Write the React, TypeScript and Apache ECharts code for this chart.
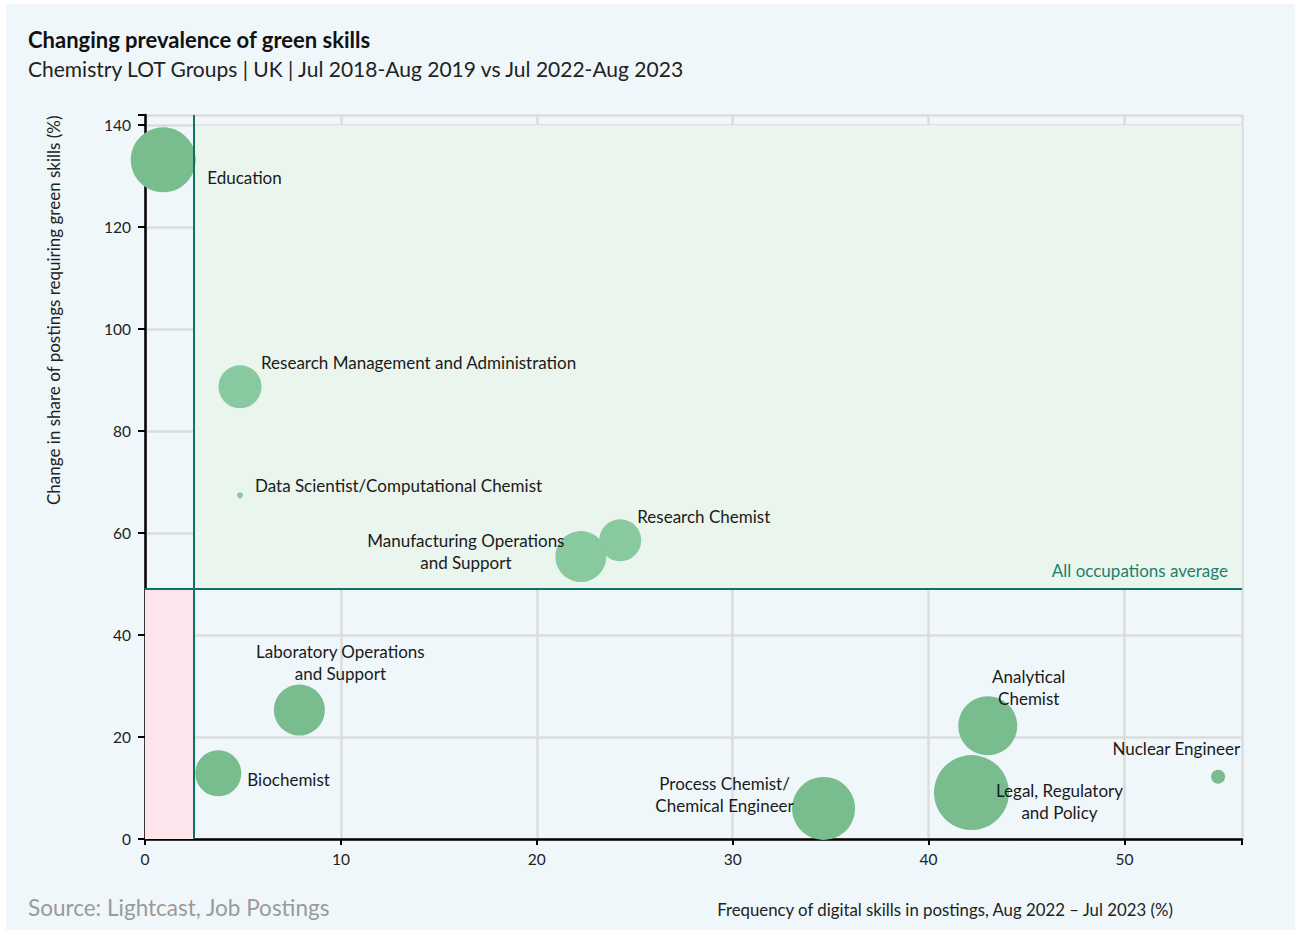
import React, { useEffect, useRef } from "react";
import * as echarts from "echarts";

const occupations = [
  "Education",
  "Research Management and Administration",
  "Data Scientist/Computational Chemist",
  "Manufacturing Operations\nand Support",
  "Research Chemist",
  "Laboratory Operations\nand Support",
  "Biochemist",
  "Process Chemist/\nChemical Engineer",
  "Analytical\nChemist",
  "Legal, Regulatory\nand Policy",
  "Nuclear Engineer",
];
const digitalFreq = [0.93, 4.85, 4.85, 22.25, 24.26, 7.88, 3.74, 34.64, 43.02, 42.19, 54.78];
const greenChange = [133.2, 88.7, 67.4, 55.4, 58.6, 25.3, 12.9, 6.0, 22.2, 9.1, 12.2];
const postingVolume = [4225, 1850, 36, 2600, 1760, 2600, 2116, 3970, 3480, 5620, 196];

const xTicks = [0, 10, 20, 30, 40, 50];
const yTicks = [0, 20, 40, 60, 80, 100, 120, 140];
const occupationsAverage = 49;
const verticalThreshold = 2.5;

// label placement relative to bubble centre: [dx, dy, align]
const labelPlacement: [number, number, string][] = [
  [44, 18, "left"],
  [21, -24, "left"],
  [15, -10, "left"],
  [-115, -5, "center"],
  [17, -24, "left"],
  [41, -48, "center"],
  [29, 6, "left"],
  [-99, -14, "center"],
  [41, -38, "center"],
  [88, 9, "center"],
  [22, -28, "right"],
];

export default function App() {
  const ref = useRef<HTMLDivElement>(null);
  useEffect(() => {
    document.body.style.margin = "0";
    const chart = echarts.init(ref.current!, null, { renderer: "svg" });
    const font = "Lato, 'Noto Sans', sans-serif";
    const data = occupations.map((name, i) => {
      const [dx, dy, align] = labelPlacement[i];
      const upper = greenChange[i] > occupationsAverage && digitalFreq[i] > verticalThreshold;
      return {
        name,
        value: [digitalFreq[i], greenChange[i], postingVolume[i]],
        itemStyle: { color: upper ? "#89c9a0" : "#79bd8f" },
        label: { offset: [dx, dy], align },
      };
    });
    chart.setOption({
      animation: false,
      textStyle: { fontFamily: font },
      title: {
        left: 28,
        top: 28,
        padding: 0,
        text: "Changing prevalence of green skills",
        subtext: "Chemistry LOT Groups | UK | Jul 2018-Aug 2019 vs Jul 2022-Aug 2023",
        itemGap: 8,
        textStyle: { fontFamily: font, fontSize: 22, fontWeight: "bold", color: "#111" },
        subtextStyle: { fontFamily: font, fontSize: 21, color: "#222" },
      },
      grid: { left: 145, right: 53, top: 115, bottom: 93, containLabel: false },
      xAxis: {
        type: "value",
        min: 0,
        max: 56,
        interval: 10,
        axisLine: { show: true, onZero: false, lineStyle: { color: "#000", width: 2.5 } },
        axisTick: { show: true, length: 6, lineStyle: { color: "#000", width: 2 } },
        axisLabel: {
          fontSize: 15.5,
          color: "#222",
          margin: 12,
          fontFamily: font,
          formatter: (v: number) => (xTicks.includes(v) ? String(v) : ""),
        },
        splitLine: { show: true, lineStyle: { color: "#dcdcdc", width: 2.5 } },
      },
      yAxis: {
        type: "value",
        min: 0,
        max: 142,
        interval: 20,
        axisLine: { show: true, onZero: false, lineStyle: { color: "#000", width: 2.5 } },
        axisTick: { show: true, length: 7, lineStyle: { color: "#000", width: 2 } },
        axisLabel: {
          fontSize: 15.5,
          color: "#222",
          margin: 14,
          fontFamily: font,
          formatter: (v: number) => (yTicks.includes(v) ? String(v) : ""),
        },
        splitLine: { show: true, lineStyle: { color: "#dcdcdc", width: 2.5 } },
      },
      series: [
        {
          type: "scatter",
          data,
          symbolSize: (val: number[]) => Math.sqrt(val[2]),
          itemStyle: { opacity: 1 },
          label: {
            show: true,
            position: "inside",
            formatter: (p: any) => p.name,
            fontSize: 17,
            lineHeight: 22,
            color: "#1a1a1a",
            fontFamily: font,
            verticalAlign: "middle",
          },
          emphasis: { disabled: true },
          markArea: {
            silent: true,
            data: [
              [
                { xAxis: verticalThreshold, yAxis: occupationsAverage, itemStyle: { color: "#eaf5ee" } },
                { xAxis: 56, yAxis: 140 },
              ],
              [
                { xAxis: 0, yAxis: 0, itemStyle: { color: "#fce6ec" } },
                { xAxis: verticalThreshold, yAxis: occupationsAverage },
              ],
            ],
          },
          markLine: {
            silent: true,
            symbol: "none",
            lineStyle: { color: "#0d7363", width: 2, type: "solid" },
            data: [
              { xAxis: verticalThreshold, label: { show: false } },
              {
                yAxis: occupationsAverage,
                label: {
                  show: true,
                  position: "insideEndTop",
                  formatter: "All occupations average",
                  color: "#1b7f6f",
                  fontSize: 17,
                  fontFamily: font,
                  distance: [14, 10],
                },
              },
            ],
          },
        },
      ],
      graphic: [
        {
          type: "text",
          x: 53,
          y: 505,
          rotation: Math.PI / 2,
          style: {
            text: "Change in share of postings requiring green skills (%)",
            fontSize: 17,
            fill: "#222",
            fontFamily: font,
            textAlign: "left",
            textVerticalAlign: "middle",
          },
        },
        {
          type: "text",
          x: 945,
          y: 909,
          style: {
            text: "Frequency of digital skills in postings, Aug 2022 \u2013 Jul 2023 (%)",
            fontSize: 16.8,
            fill: "#222",
            fontFamily: font,
            textAlign: "center",
            textVerticalAlign: "middle",
          },
        },
        {
          type: "text",
          x: 28,
          y: 907,
          style: {
            text: "Source: Lightcast, Job Postings",
            fontSize: 22.5,
            fill: "#9a9a9a",
            fontFamily: font,
            textAlign: "left",
            textVerticalAlign: "middle",
          },
        },
      ],
    });
    return () => chart.dispose();
  }, []);
  return (
    <div style={{ position: "fixed", left: 0, top: 0, width: 1295, height: 932, background: "#fff" }}>
      <div style={{ position: "absolute", left: 6, top: 4, right: 0, bottom: 2, background: "#eff7fa" }} />
      <div ref={ref} style={{ position: "absolute", left: 0, top: 0, width: 1295, height: 932 }} />
    </div>
  );
}
